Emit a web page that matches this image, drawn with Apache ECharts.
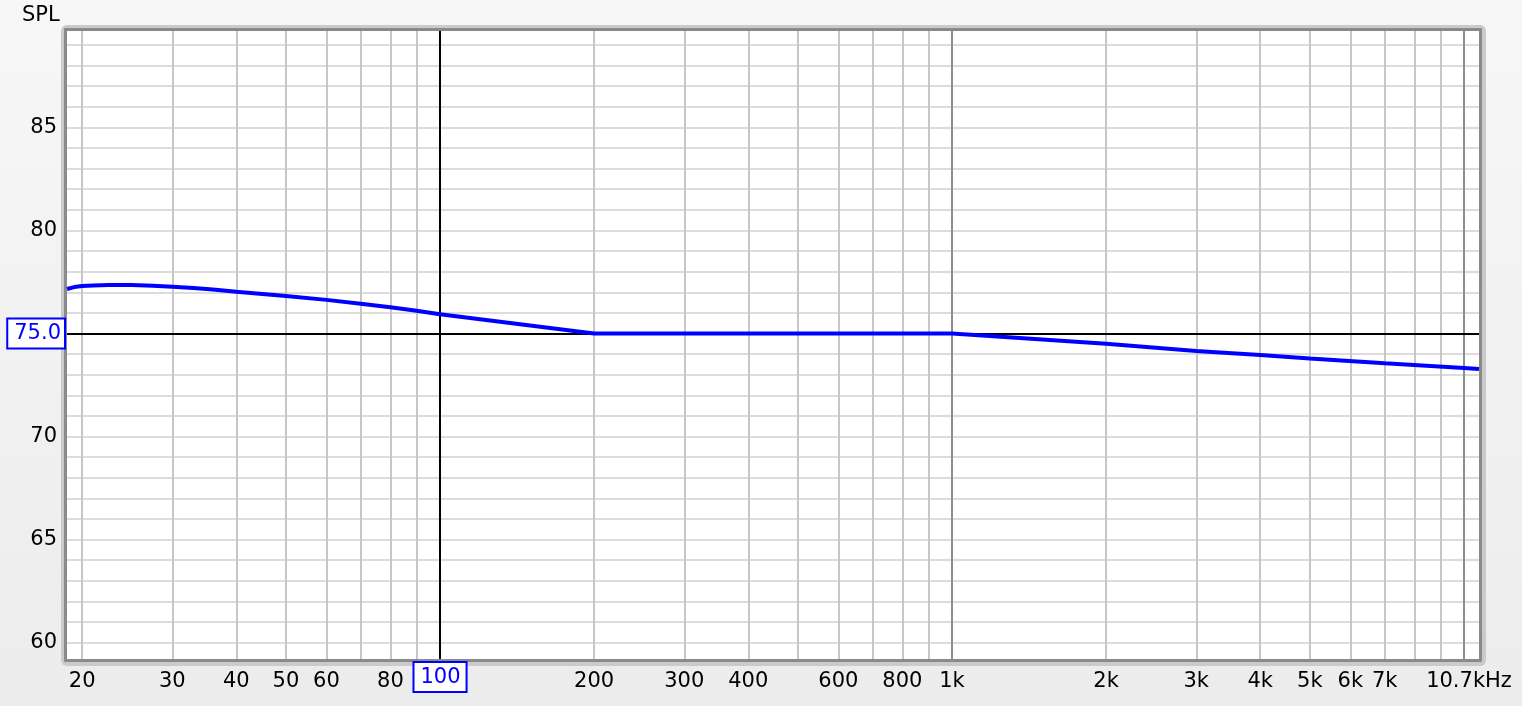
<!DOCTYPE html>
<html>
<head>
<meta charset="utf-8">
<script src="https://cdn.jsdelivr.net/npm/echarts@6/dist/echarts.min.js"></script>
<style>
html,body{margin:0;padding:0;background:#efefef;}
#chart{width:1522px;height:706px;}
</style>
</head>
<body>
<div id="chart"></div>
<script>
// ---- data ----
const freqs = [18.68, 19.3, 20, 21, 22.5, 25, 27.5, 30, 33, 36, 40, 45, 50, 60, 70, 80, 90, 100, 200, 1000, 2000, 3000, 4000, 5000, 7000, 10000, 10700];
const spl   = [77.16, 77.25, 77.30, 77.33, 77.35, 77.35, 77.32, 77.27, 77.21, 77.13, 77.02, 76.92, 76.82, 76.63, 76.44, 76.27, 76.10, 75.93, 75.0, 75.0, 74.5, 74.15, 73.95, 73.78, 73.55, 73.32, 73.27];

const xMin = 18.68, xMax = 10700;
const yMin = 59.2, yMax = 89.68;

const xGridMinor = [20,30,40,50,60,70,80,90,200,300,400,500,600,700,800,900,2000,3000,4000,5000,6000,7000,8000,9000];
const xGridMajor = [1000, 10000];
const yGrid = [60,61,62,63,64,65,66,67,68,69,70,71,72,73,74,75,76,77,78,79,80,81,82,83,84,85,86,87,88,89];

const xTickValues = [20,30,40,50,60,80,200,300,400,600,800,1000,2000,3000,4000,5000,6000,7000,10700];
const xTickLabels = ['20','30','40','50','60','80','200','300','400','600','800','1k','2k','3k','4k','5k','6k','7k','10.7kHz'];
const yTickValues = [60,65,70,80,85];
const yTickLabels = ['60','65','70','80','85'];

const cursorX = 100, cursorXLabel = '100';
const cursorY = 75, cursorYLabel = '75.0';

// ---- chart ----
const FONT = 'DejaVu Sans';
const FS = 21;
const chart = echarts.init(document.getElementById('chart'), null, {renderer:'canvas'});

const L = 67, T = 31, R = 1479, B = 659;

function emptyLine(name, z, markLine){
  return {name, type:'line', data:[], z, silent:true, clip:false, symbol:'none', markLine};
}
const hidden = {color:'rgba(0,0,0,0)', width:0, type:'solid'};

const option = {
  animation:false,
  backgroundColor: new echarts.graphic.LinearGradient(0,0,0,1,[{offset:0,color:'#f7f7f7'},{offset:1,color:'#ececec'}]),
  grid:{left:L, top:T, width:R-L, height:B-T, show:false, containLabel:false},
  xAxis:{type:'log', logBase:10, min:xMin, max:xMax,
    axisLine:{show:false}, axisTick:{show:false}, axisLabel:{show:false}, splitLine:{show:false}},
  yAxis:{type:'value', min:yMin, max:yMax,
    axisLine:{show:false}, axisTick:{show:false}, axisLabel:{show:false}, splitLine:{show:false}},
  graphic:[
    {type:'rect', z:-10, shape:{x:L-6, y:T-6, width:R-L+13, height:B-T+13, r:6}, style:{fill:'#cacaca'}},
    {type:'rect', z:-9, shape:{x:L-3, y:T-3, width:R-L+6, height:B-T+6, r:1}, style:{fill:'#8a8a8a'}},
    {type:'rect', z:-8, shape:{x:L, y:T, width:R-L, height:B-T}, style:{fill:'#ffffff'}},
    {type:'text', x:22, y:5, style:{text:'SPL', fontSize:FS, fontFamily:FONT, fill:'#000'}}
  ],
  series:[
    emptyLine('hgrid', 1, {silent:true, symbol:['none','none'], animation:false,
      lineStyle:{color:'#dcdcdc', width:2, type:'solid'}, label:{show:false},
      data: yGrid.map(v=>({yAxis:v}))}),
    emptyLine('vgrid', 2, {silent:true, symbol:['none','none'], animation:false,
      lineStyle:{color:'#c6c6c6', width:2, type:'solid'}, label:{show:false},
      data: xGridMinor.map(v=>({xAxis:v}))}),
    emptyLine('vgridMajor', 3, {silent:true, symbol:['none','none'], animation:false,
      lineStyle:{color:'#8c8c8c', width:2, type:'solid'}, label:{show:false},
      data: xGridMajor.map(v=>({xAxis:v}))}),
    emptyLine('xlabels', 3, {silent:true, symbol:['none','none'], animation:false,
      lineStyle:hidden,
      label:{show:true, position:'start', distance:12, color:'#000', fontFamily:FONT, fontSize:FS,
        formatter:p=>xTickLabels[p.dataIndex]},
      data: xTickValues.map((v,i)=> i===xTickValues.length-1
        ? {xAxis:v, label:{padding:[0,20,0,0]}} : {xAxis:v})}),
    emptyLine('ylabels', 3, {silent:true, symbol:['none','none'], animation:false,
      lineStyle:hidden,
      label:{show:true, position:'start', distance:10, color:'#000', fontFamily:FONT, fontSize:FS,
        padding:[4,0,0,0], formatter:p=>yTickLabels[p.dataIndex]},
      data: yTickValues.map(v=>({yAxis:v}))}),
    emptyLine('cursor', 4, {silent:true, symbol:['none','none'], animation:false,
      lineStyle:{color:'#000', width:2, type:'solid'},
      label:{show:true, position:'start', distance:4, color:'#0000ff', fontFamily:FONT, fontSize:FS,
        borderColor:'#0000ff', borderWidth:2, backgroundColor:'#fff', padding:[4,3,3,6]},
      data:[
        {xAxis:cursorX, label:{formatter:cursorXLabel, padding:[4,5,3,6]}},
        {yAxis:cursorY, label:{formatter:cursorYLabel, distance:3}}
      ]}),
    {name:'SPL', type:'line', z:10, symbol:'none', smooth:false, clip:true,
      lineStyle:{color:'#0000ff', width:4},
      data: freqs.map((f,i)=>[f, spl[i]])}
  ]
};
chart.setOption(option);
</script>
</body>
</html>
